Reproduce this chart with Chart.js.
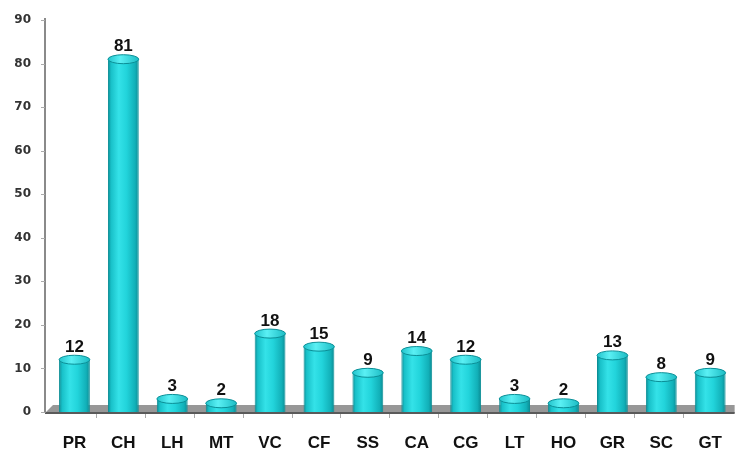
<!DOCTYPE html>
<html><head><meta charset="utf-8">
<script src="https://cdn.jsdelivr.net/npm/chart.js@4"></script>
<style>html,body{margin:0;padding:0;background:#fff}#w{width:735px;height:452px}</style>
</head><body><div id="w"><canvas id="c" width="735" height="452"></canvas></div>
<script>
const categories = ['PR','CH','LH','MT','VC','CF','SS','CA','CG','LT','HO','GR','SC','GT'];
const counts = [12,81,3,2,18,15,9,14,12,3,2,13,8,9];
const yMin = 0, yMax = 90, yStep = 10;

function barGradient(ctx) {
  const chart = ctx.chart;
  const xs = chart.scales.x;
  if (!xs || !chart.chartArea) return '#20d0d8';
  const cx = xs.getPixelForValue(ctx.dataIndex);
  const w = (xs.width / categories.length) * 0.63;
  const g = chart.ctx.createLinearGradient(cx - w/2, 0, cx + w/2, 0);
  g.addColorStop(0, '#0a8a92');
  g.addColorStop(0.1, '#18c0c8');
  g.addColorStop(0.35, '#34e2e8');
  g.addColorStop(0.6, '#22d4db');
  g.addColorStop(0.88, '#12b0b8');
  g.addColorStop(1, '#0a8a92');
  return g;
}

const decor = {
  id: 'decor',
  beforeDatasetsDraw(chart) {
    const c = chart.ctx, a = chart.chartArea;
    const ys = chart.scales.y;
    const base = ys.getPixelForValue(0);
    c.save();
    // floor
    c.beginPath();
    c.moveTo(a.left - 5, base + 1);
    c.lineTo(a.left + 3, base - 7);
    c.lineTo(a.right, base - 7);
    c.lineTo(a.right, base + 1);
    c.closePath();
    c.fillStyle = '#979797';
    c.fill();
    c.fillStyle = '#5a5a5a';
    c.fillRect(a.left - 5, base, a.right - a.left + 5, 2);
    // y axis line
    c.strokeStyle = '#8a8a8a';
    c.lineWidth = 2;
    c.beginPath();
    c.moveTo(a.left - 5, ys.getPixelForValue(yMax) - 2);
    c.lineTo(a.left - 5, base + 1);
    c.stroke();
    // y tick marks
    c.lineWidth = 1;
    c.strokeStyle = '#aaa';
    for (let v = yMin; v <= yMax; v += yStep) {
      const y = Math.round(ys.getPixelForValue(v)) + 0.5;
      c.beginPath(); c.moveTo(a.left - 9, y); c.lineTo(a.left - 5, y); c.stroke();
    }
    // x tick marks
    const xs = chart.scales.x;
    const cw = xs.width / categories.length;
    for (let i = 1; i < categories.length; i++) {
      const x = Math.round(a.left + i * cw - 3) + 0.5;
      c.beginPath(); c.moveTo(x, base + 2); c.lineTo(x, base + 6); c.stroke();
    }
    c.restore();
  },
  afterDatasetsDraw(chart) {
    const c = chart.ctx;
    const meta = chart.getDatasetMeta(0);
    c.save();
    meta.data.forEach((el, i) => {
      const p = el.getProps(['x','y','width'], true);
      const rx = p.width / 2, ry = 4.5;
      const g = c.createLinearGradient(p.x - rx, 0, p.x + rx, 0);
      g.addColorStop(0, '#22c4cc');
      g.addColorStop(0.4, '#5af0f4');
      g.addColorStop(1, '#1cbcc4');
      c.beginPath();
      c.ellipse(p.x, p.y, rx, ry, 0, 0, Math.PI * 2);
      c.fillStyle = g;
      c.fill();
      c.strokeStyle = '#0b8f97';
      c.lineWidth = 1;
      c.stroke();
      c.fillStyle = '#111';
      c.font = 'bold 17px "Liberation Sans", Arial, sans-serif';
      c.textAlign = 'center';
      c.textBaseline = 'alphabetic';
      c.fillText(String(counts[i]), p.x, p.y - 8);
    });
    c.restore();
  }
};

new Chart(document.getElementById('c'), {
  type: 'bar',
  data: {
    labels: categories,
    datasets: [{
      data: counts,
      backgroundColor: barGradient,
      borderColor: '#0b8f97',
      borderWidth: {left: 1, right: 1, top: 0, bottom: 0},
      borderSkipped: false,
      barPercentage: 0.7,
      categoryPercentage: 0.9
    }]
  },
  options: {
    responsive: false,
    animation: false,
    devicePixelRatio: 1,
    layout: { padding: { top: 20, right: 0, bottom: 0, left: 0 } },
    plugins: { legend: { display: false }, tooltip: { enabled: false } },
    scales: {
      x: {
        grid: { display: false },
        border: { display: false },
        ticks: { color: '#111', font: { family: '"Liberation Sans", Arial, sans-serif', size: 17, weight: 'bold' }, padding: 13, maxRotation: 0 },
        afterFit: s => { s.height = 40; }
      },
      y: {
        min: yMin, max: yMax,
        grid: { display: false },
        border: { display: false },
        ticks: { stepSize: yStep, color: '#333', font: { family: '"DejaVu Sans", sans-serif', size: 12, weight: 'bold' }, padding: 11 },
        afterFit: s => { s.width = 50; }
      }
    }
  },
  plugins: [decor]
});
</script></body></html>
